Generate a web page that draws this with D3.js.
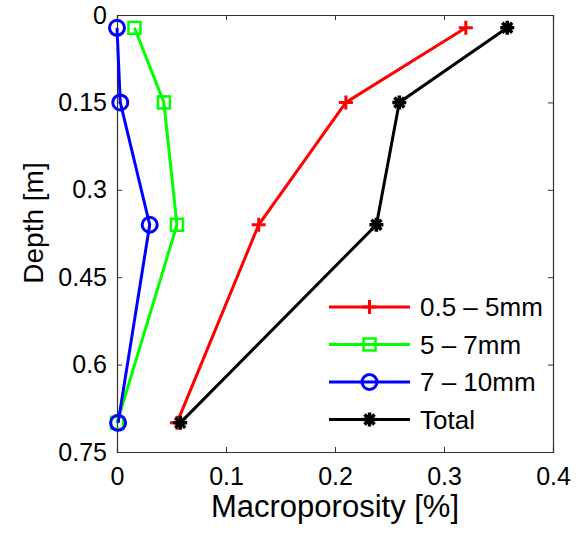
<!DOCTYPE html>
<html>
<head>
<meta charset="utf-8">
<script src="https://cdn.jsdelivr.net/npm/d3@7"></script>
<style>
  body { margin: 0; background: #fff; }
  text { font-family: "Liberation Sans", Arial, sans-serif; fill: #000; }
</style>
</head>
<body>
<div id="chart"></div>
<script>
// data
var depths = [0.022, 0.15, 0.36, 0.70];
var fine = [0.32, 0.21, 0.13, 0.055];      // 0.5 - 5mm
var medium = [0.016, 0.043, 0.055, 0];     // 5 - 7mm
var coarse = [0, 0.003, 0.03, 0.001];      // 7 - 10mm
var total = [0.358, 0.259, 0.238, 0.058];
var seriesNames = ["0.5 \u2013 5mm", "5 \u2013 7mm", "7 \u2013 10mm", "Total"];
var xTicks = [0, 0.1, 0.2, 0.3, 0.4];
var yTicks = [0, 0.15, 0.3, 0.45, 0.6, 0.75];

var W = 579, H = 536;
var margin = { top: 15, right: 26, bottom: 84, left: 117 },
    width = W - margin.left - margin.right,
    height = H - margin.top - margin.bottom;

var svg = d3.select("#chart").append("svg")
    .attr("width", W).attr("height", H)
    .append("g")
    .attr("transform", "translate(" + margin.left + "," + margin.top + ")");

var x = d3.scaleLinear().domain([0, 0.4]).range([0, width]);
var y = d3.scaleLinear().domain([0, 0.75]).range([0, height]);

// axes with inward ticks on all sides
svg.append("g").attr("class", "axis")
    .attr("transform", "translate(0," + height + ")")
    .call(d3.axisBottom(x).tickValues(xTicks).tickSize(-5).tickPadding(15)
        .tickFormat(function (d) { return d3.format("")(d); }));
svg.append("g").attr("class", "axis")
    .call(d3.axisTop(x).tickValues(xTicks).tickSize(-5).tickFormat(""));
svg.append("g").attr("class", "axis")
    .call(d3.axisLeft(y).tickValues(yTicks).tickSize(-5).tickPadding(10)
        .tickFormat(function (d) { return d3.format("")(d); }));
svg.append("g").attr("class", "axis")
    .attr("transform", "translate(" + width + ",0)")
    .call(d3.axisRight(y).tickValues(yTicks).tickSize(-5).tickFormat(""));

svg.selectAll(".axis path").attr("stroke", "#333").attr("stroke-width", 1.2);
svg.selectAll(".axis line").attr("stroke", "#333");
svg.selectAll(".axis text").style("font-size", "25px").style("font-family", "Liberation Sans, Arial, sans-serif").attr("fill", "#000");

// axis labels
svg.append("text")
    .attr("x", width / 2).attr("y", height + 65)
    .style("text-anchor", "middle").style("font-size", "31px")
    .text("Macroporosity [%]");
svg.append("text")
    .attr("transform", "rotate(-90)")
    .attr("x", -208).attr("y", -74)
    .style("text-anchor", "middle").style("font-size", "28px")
    .text("Depth [m]");

var series = [
    { name: seriesNames[0], vals: fine, color: "#ff0000", marker: "plus" },
    { name: seriesNames[1], vals: medium, color: "#00ff00", marker: "square" },
    { name: seriesNames[2], vals: coarse, color: "#0000ff", marker: "circle" },
    { name: seriesNames[3], vals: total, color: "#000000", marker: "star" }
];

function drawMarker(g, type, color) {
    if (type === "plus") {
        g.append("path").attr("d", "M-7,0H7M0,-7V7")
            .attr("stroke", color).attr("stroke-width", 3).attr("fill", "none");
    } else if (type === "square") {
        g.append("rect").attr("x", -6).attr("y", -6).attr("width", 12).attr("height", 12)
            .attr("stroke", color).attr("stroke-width", 2.5).attr("fill", "none");
    } else if (type === "circle") {
        g.append("circle").attr("r", 7.5)
            .attr("stroke", color).attr("stroke-width", 3).attr("fill", "none");
    } else {
        g.append("path").attr("d", "M-7,0H7M0,-7V7M-5,-5L5,5M-5,5L5,-5")
            .attr("stroke", color).attr("stroke-width", 3.5).attr("fill", "none");
    }
}

var line = d3.line()
    .x(function (d) { return x(d[0]); })
    .y(function (d) { return y(d[1]); });

series.forEach(function (s) {
    var pts = s.vals.map(function (v, i) { return [v, depths[i]]; });
    svg.append("path").datum(pts)
        .attr("d", line)
        .attr("fill", "none").attr("stroke", s.color).attr("stroke-width", 3);
    pts.forEach(function (p) {
        var g = svg.append("g").attr("transform", "translate(" + x(p[0]) + "," + y(p[1]) + ")");
        drawMarker(g, s.marker, s.color);
    });
});

// legend
var legend = svg.append("g").attr("transform", "translate(" + (329 - margin.left) + "," + (307 - margin.top) + ")");
series.forEach(function (s, i) {
    var g = legend.append("g").attr("transform", "translate(0," + (i * 37.5) + ")");
    g.append("line").attr("x1", 0).attr("x2", 81).attr("y1", 0).attr("y2", 0)
        .attr("stroke", s.color).attr("stroke-width", 3);
    var m = g.append("g").attr("transform", "translate(40.5,0)");
    drawMarker(m, s.marker, s.color);
    g.append("text").attr("x", 91).attr("y", 0).attr("dy", "0.35em")
        .style("font-size", "26px").text(s.name);
});
</script>
</body>
</html>
